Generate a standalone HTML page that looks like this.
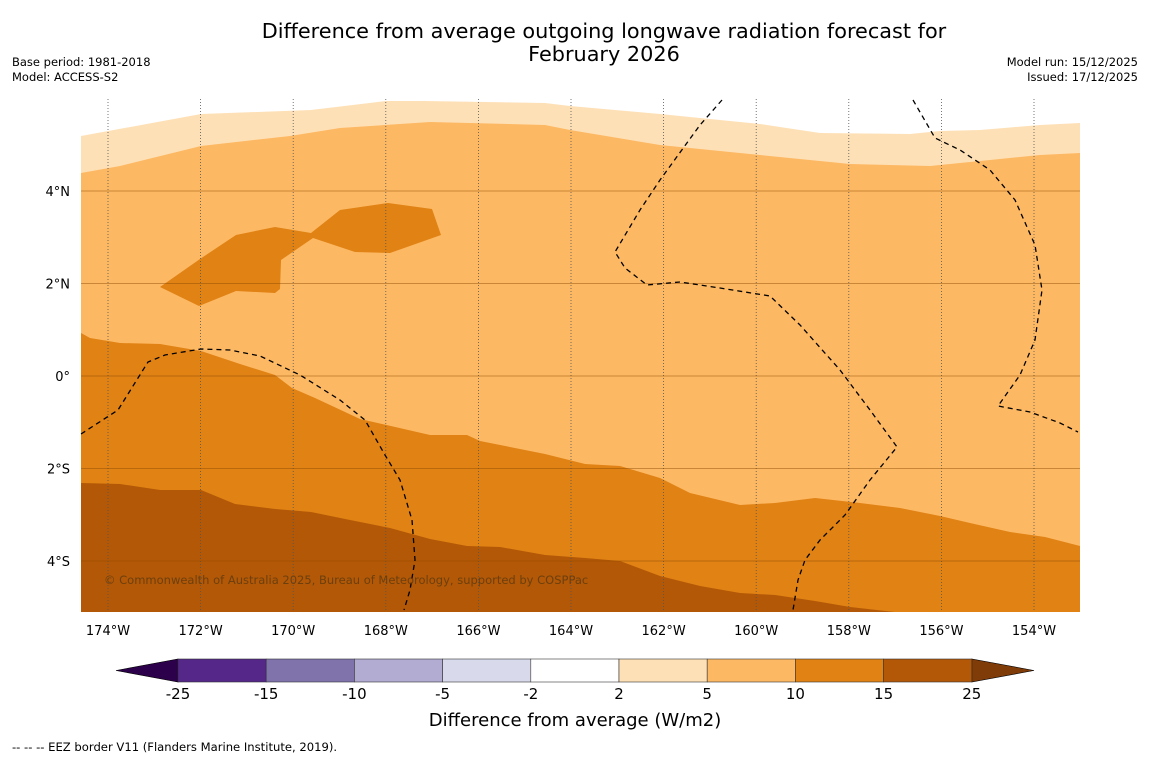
<!DOCTYPE html>
<html><head><meta charset="utf-8">
<style>
body{margin:0;background:#fff;font-family:"Liberation Sans","DejaVu Sans",sans-serif;}
svg{display:block}
</style></head>
<body>
<svg id="c" width="1150" height="758" xmlns="http://www.w3.org/2000/svg" font-family="DejaVu Sans, Liberation Sans, sans-serif">
<text x="604" y="38" font-size="20.8" text-anchor="middle">Difference from average outgoing longwave radiation forecast for</text>
<text x="604" y="61" font-size="20.8" text-anchor="middle">February 2026</text>
<text x="12" y="66" font-size="11.5">Base period: 1981-2018</text>
<text x="12" y="81" font-size="11.5">Model: ACCESS-S2</text>
<text x="1138" y="66" font-size="11.5" text-anchor="end">Model run: 15/12/2025</text>
<text x="1138" y="81" font-size="11.5" text-anchor="end">Issued: 17/12/2025</text>
<g id="map"></g>
<g id="grid"></g>
<g id="eez"></g>
<g id="ticks"></g>
<text x="104" y="584" font-size="11.5" fill="#5a3a10" fill-opacity="0.8">© Commonwealth of Australia 2025, Bureau of Meteorology, supported by COSPPac</text>
<g id="cbar"></g>
<text x="575" y="726" font-size="18" text-anchor="middle">Difference from average (W/m2)</text>
<text x="12" y="751" font-size="11.6">--  --  -- EEZ border V11 (Flanders Marine Institute, 2019).</text>
</svg>
<script>
const NS="http://www.w3.org/2000/svg";
// axis: longitude ticks (deg W), latitude ticks
const lonTicks=[174,172,170,168,166,164,162,160,158,156,154];
const latTicks=[4,2,0,-2,-4];
const cbLevels=["-25","-15","-10","-5","-2","2","5","10","15","25"];
const cbColors=["#542788","#8073ac","#b2abd2","#d8daeb","#ffffff","#fee0b6","#fdb863","#e08214","#b35806"];
// contour boundaries digitized in map pixel units
const topEdge=[[81,136],[201,114],[311,110],[386,101],[424,101],[545,103],[570,106],[660,114],[760,124],[820,133],[910,134],[940,131],[980,130],[1040,125],[1080,123]];
const lightMid=[[81,173],[120,166],[201,146],[290,136],[340,128],[430,122],[545,125],[570,130],[660,145],[760,155],[850,164],[930,166],[990,160],[1040,155],[1080,153]];
const midDark=[[81,333],[90,338],[120,343],[160,344],[201,351],[240,364],[275,375],[292,388],[315,398],[360,419],[430,435],[467,435],[480,441],[545,454],[585,464],[620,466],[660,478],[690,493],[740,505],[775,503],[815,498],[860,503],[900,508],[940,516],[970,523],[1010,532],[1045,537],[1080,546]];
const darkDarkest=[[81,483],[120,484],[160,490],[201,490],[235,504],[275,509],[311,512],[350,520],[390,528],[430,539],[467,546],[500,547],[545,555],[585,558],[620,561],[660,576],[700,586],[740,593],[775,595],[815,601],[850,607],[895,612]];
const blob=[[160,287],[200,259],[236,235],[275,227],[311,233],[340,210],[388,203],[432,209],[441,235],[390,253],[355,252],[313,238],[281,260],[280,289],[275,293],[236,291],[199,306]];
const eez1=[[81,434],[118,410],[148,362],[165,355],[201,349],[230,350],[260,356],[300,375],[340,400],[365,420],[385,455],[400,480],[412,520],[415,560],[410,590],[404,610]];
const eez2=[[722,100],[700,125],[660,180],[640,210],[615,252],[625,268],[647,285],[680,282],[720,288],[770,296],[800,325],[840,370],[870,410],[897,447],[870,480],[845,515],[820,540],[805,560],[798,580],[793,610]];
const eez3=[[913,100],[935,138],[960,150],[990,170],[1015,200],[1035,245],[1042,290],[1035,340],[1020,375],[998,406],[1030,412],[1060,423],[1078,432]];
const X0=81,X1=1080,Y0=99,Y1=612;
const xLon=w=>108+(174-w)*46.3;
const yLat=l=>376-l*46.25;
const cbX=i=>178+i*88.2;
function el(t,a,p){const e=document.createElementNS(NS,t);for(const k in a)e.setAttribute(k,a[k]);p.appendChild(e);return e;}
const pts=a=>a.map(p=>p.join(',')).join(' ');
const map=document.getElementById('map');
let e;
e=el('rect',{x:X0,y:Y0,width:X1-X0,height:Y1-Y0,fill:'#b35806'},map);

e=el('polygon',{points:pts([[X0,Y0]].concat(darkDarkest,[[X1,Y1],[X1,Y0]])),fill:'#e08214'},map);

e=el('polygon',{points:pts([[X0,Y0]].concat(midDark,[[X1,Y0]])),fill:'#fdb863'},map);

e=el('polygon',{points:pts([[X0,Y0]].concat(lightMid,[[X1,Y0]])),fill:'#fee0b6'},map);

e=el('polygon',{points:pts([[X0,Y0-2]].concat(topEdge,[[X1,Y0-2]])),fill:'#ffffff'},map);

e=el('polygon',{points:pts(blob),fill:'#e08214'},map);

const grid=document.getElementById('grid'),ticks=document.getElementById('ticks');
lonTicks.forEach(w=>{const x=xLon(w);
 e=el('line',{x1:x,x2:x,y1:Y0,y2:Y1,stroke:'#555','stroke-width':0.8,'stroke-dasharray':'1,2'},grid);
 
 e=el('text',{x:x,y:635,'font-size':13,'text-anchor':'middle'},ticks);e.textContent=w+'°W';
 });
latTicks.forEach(l=>{const y=yLat(l);
 e=el('line',{x1:X0,x2:X1,y1:y,y2:y,stroke:'#8a4a00','stroke-opacity':0.45,'stroke-width':1},grid);
 
 e=el('text',{x:70,y:y+5,'font-size':13,'text-anchor':'end'},ticks);e.textContent=l===0?'0°':Math.abs(l)+'°'+(l>0?'N':'S');
 });
const eez=document.getElementById('eez');
[eez1,eez2,eez3].forEach(a=>{e=el('polyline',{points:pts(a),fill:'none',stroke:'#000','stroke-width':1.3,'stroke-dasharray':'5,4'},eez);
 });
const cb=document.getElementById('cbar');
e=el('polygon',{points:`${cbX(0)},659 ${cbX(0)},682 116,670.5`,fill:'#2d004b',stroke:'#000','stroke-width':0.6},cb);

e=el('polygon',{points:`${cbX(9)},659 ${cbX(9)},682 1034,670.5`,fill:'#7f3b08',stroke:'#000','stroke-width':0.6},cb);

cbColors.forEach((c,i)=>{e=el('rect',{x:cbX(i),y:659,width:cbX(i+1)-cbX(i),height:23,fill:c,stroke:'#333','stroke-width':0.6},cb);
 });
cbLevels.forEach((t,i)=>{e=el('text',{x:cbX(i),y:699,'font-size':15,'text-anchor':'middle'},cb);e.textContent=t;
 });
</script>
</body></html>
